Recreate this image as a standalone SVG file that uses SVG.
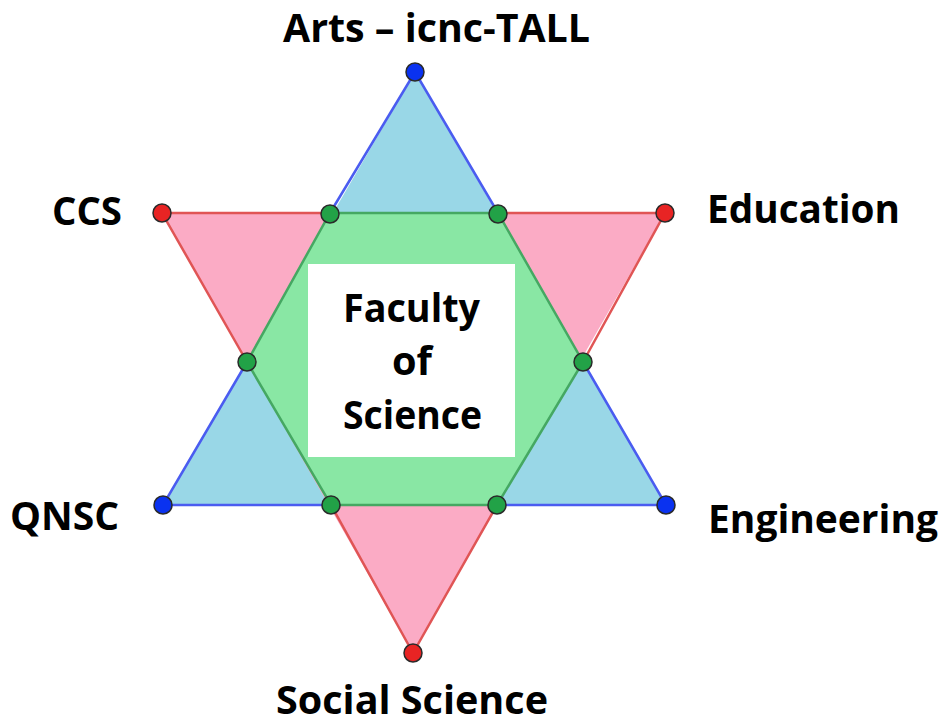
<svg xmlns="http://www.w3.org/2000/svg" width="944" height="726" viewBox="0 0 944 726">
  <style>
    .lbl { font-family: "Open Sans", "Noto Sans", "Liberation Sans", sans-serif; font-weight: 700; font-size: 40px; fill: #000; }
    .pt { stroke: #2a2a2a; stroke-width: 1.5; }
    .pb { fill: #0a32f0; }
    .pr { fill: #e82424; }
    .pg { fill: #22a247; }
    .eb { stroke: #4a5cf0; stroke-width: 2.5; fill: none; }
    .er { stroke: #e05555; stroke-width: 2.5; fill: none; }
    .eg { stroke: #45a862; stroke-width: 2.5; fill: none; }
  </style>
  <rect width="944" height="726" fill="#ffffff"/>
  <g id="fills">
    <polygon points="415,72 163,505 666,505" fill="#99d7e7"/>
    <polygon points="162,213 665,213 413,653" fill="#fbabc5"/>
    <polygon points="330,213 498,213 583,362 497,505 331,505 247,362" fill="#89e7a4"/>
  </g>
  <g id="connectors">
    <polyline class="eb" points="330,213 415,72 498,213"/>
    <polyline class="eb" points="247,362 163,505 331,505"/>
    <polyline class="eb" points="583,362 666,505 497,505"/>
    <polyline class="er" points="330,213 162,213 247,362"/>
    <polyline class="er" points="498,213 665,213 583,362"/>
    <polyline class="er" points="331,505 413,653 497,505"/>
    <polygon class="eg" points="330,213 498,213 583,362 497,505 331,505 247,362"/>
  </g>
  <g id="hex-points">
    <circle class="pt pg" cx="330" cy="214" r="9"/>
    <circle class="pt pg" cx="498" cy="214" r="9"/>
    <circle class="pt pg" cx="583" cy="362" r="9"/>
    <circle class="pt pg" cx="497" cy="505" r="9"/>
    <circle class="pt pg" cx="331" cy="505" r="9"/>
    <circle class="pt pg" cx="247" cy="362" r="9"/>
  </g>
  <g id="node-center">
    <rect x="308" y="264" width="207" height="193" fill="#ffffff"/>
    <text class="lbl" x="343" y="322" textLength="137" lengthAdjust="spacingAndGlyphs">Faculty</text>
    <text class="lbl" x="392" y="375" textLength="40" lengthAdjust="spacingAndGlyphs">of</text>
    <text class="lbl" x="343" y="429" textLength="139" lengthAdjust="spacingAndGlyphs">Science</text>
  </g>
  <g id="node-arts">
    <circle class="pt pb" cx="415" cy="72" r="9"/>
    <text class="lbl" x="283" y="42" textLength="307" lengthAdjust="spacingAndGlyphs">Arts – icnc-TALL</text>
  </g>
  <g id="node-ccs">
    <circle class="pt pr" cx="162" cy="213" r="9"/>
    <text class="lbl" x="52" y="225" textLength="70" lengthAdjust="spacingAndGlyphs">CCS</text>
  </g>
  <g id="node-education">
    <circle class="pt pr" cx="665" cy="213" r="9"/>
    <text class="lbl" x="707" y="223" textLength="193" lengthAdjust="spacingAndGlyphs">Education</text>
  </g>
  <g id="node-qnsc">
    <circle class="pt pb" cx="163" cy="505" r="9"/>
    <text class="lbl" x="10" y="530" textLength="109" lengthAdjust="spacingAndGlyphs">QNSC</text>
  </g>
  <g id="node-engineering">
    <circle class="pt pb" cx="666" cy="505" r="9"/>
    <text class="lbl" x="708" y="533" textLength="230" lengthAdjust="spacingAndGlyphs">Engineering</text>
  </g>
  <g id="node-social">
    <circle class="pt pr" cx="413" cy="653" r="9"/>
    <text class="lbl" x="276" y="714" textLength="272" lengthAdjust="spacingAndGlyphs">Social Science</text>
  </g>
</svg>
